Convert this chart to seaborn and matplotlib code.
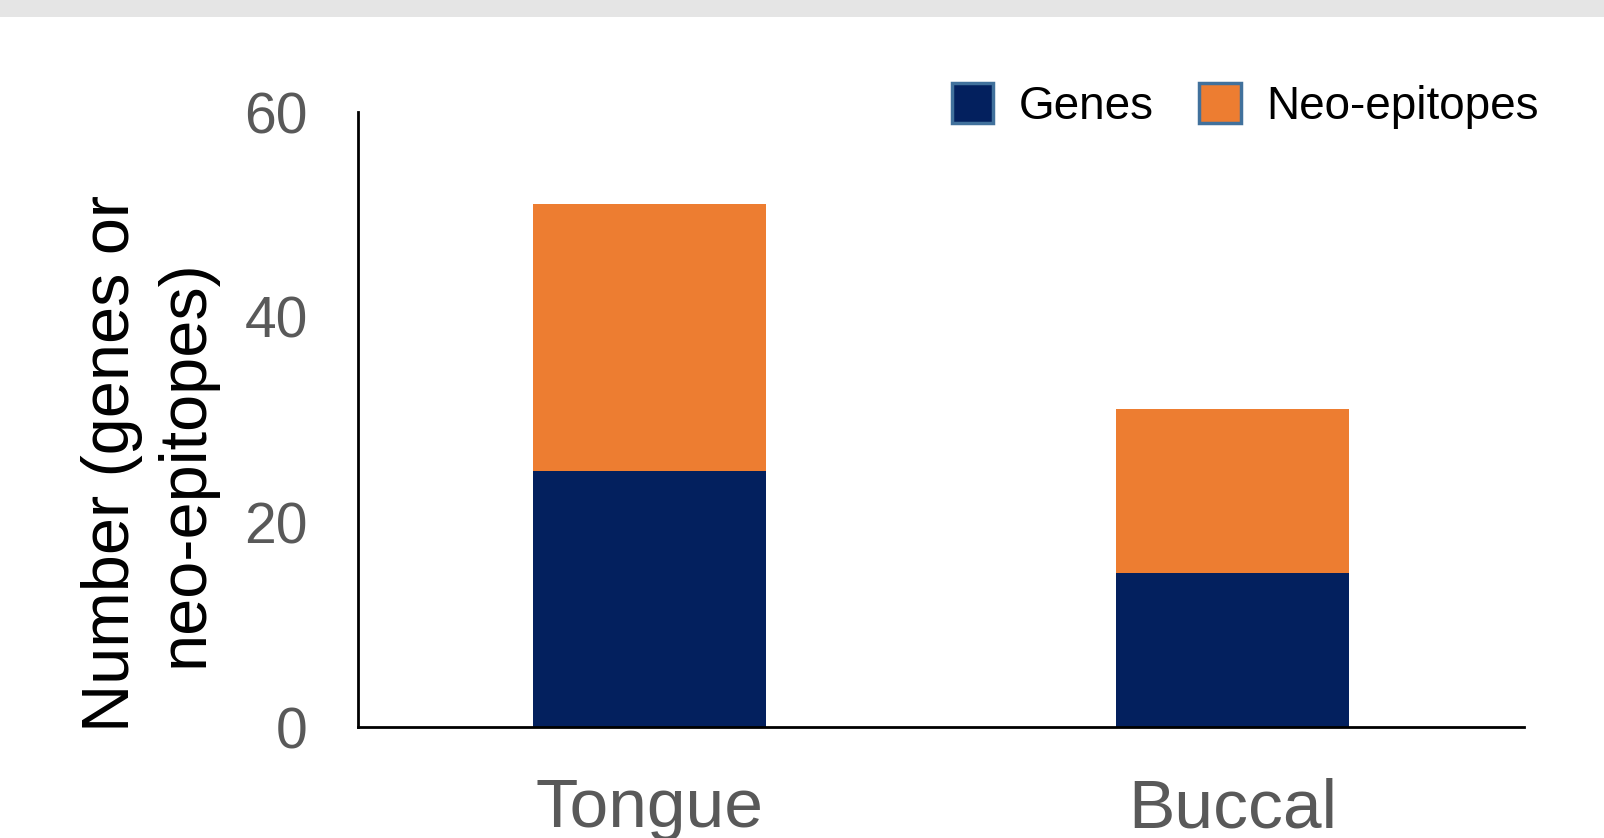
import matplotlib
matplotlib.use("Agg")
import matplotlib.pyplot as plt
import seaborn as sns
import pandas as pd
from matplotlib.patches import Patch, Rectangle

# values
sites = ['Tongue', 'Buccal']
genes = [25, 15]
neo_epitopes = [26, 16]

navy = '#03205E'
orange = '#ED7D31'
edge = '#41719C'
tick_grey = '#595959'

df = pd.DataFrame({'site': sites, 'genes': genes, 'neo': neo_epitopes})
df['total'] = df['genes'] + df['neo']

sns.set_theme(style='white')
plt.rcParams['font.family'] = ['Liberation Sans', 'DejaVu Sans']

fig = plt.figure(figsize=(16.04, 8.38), dpi=100)
ax = fig.add_axes([358 / 1604, 1 - 727 / 838, (1524 - 358) / 1604, (727 - 112) / 838])

# stacked bars: total (orange) behind genes (navy)
sns.barplot(data=df, x='site', y='total', color=orange, width=0.4, saturation=1,
            linewidth=0, ax=ax)
sns.barplot(data=df, x='site', y='genes', color=navy, width=0.4, saturation=1,
            linewidth=0, ax=ax)

ax.set_xlim(-0.5, 1.5)
ax.set_ylim(0, 60)
ax.set_yticks([0, 20, 40, 60])
ax.set_xlabel('')
ax.set_ylabel('')
sns.despine(ax=ax)
for s in ['left', 'bottom']:
    ax.spines[s].set_color('black')
    ax.spines[s].set_linewidth(2)
ax.spines['left'].set_bounds(0, 60)
ax.tick_params(axis='y', length=0, pad=36, labelsize=41, labelcolor=tick_grey)
ax.tick_params(axis='x', length=0, pad=36, labelsize=50, labelcolor=tick_grey)

fig.text(149 / 1604, 1 - 463 / 838, 'Number (genes or\nneo-epitopes)', rotation=90,
         ha='center', va='center', fontsize=48, color='black', linespacing=1.25)

handles = [Patch(facecolor=navy, edgecolor=edge, linewidth=2.5, label='Genes'),
           Patch(facecolor=orange, edgecolor=edge, linewidth=2.5, label='Neo-epitopes')]
fig.legend(handles=handles, loc='center left', bbox_to_anchor=(952 / 1604, 1 - 106 / 838),
           ncol=2, frameon=False, fontsize=33, labelcolor='black',
           handlelength=0.9, handleheight=0.95,
           handletextpad=0.55, columnspacing=1.0, borderpad=0, borderaxespad=0)

# grey band at the top of the slide
fig.patches.append(Rectangle((0, 1 - 17 / 838), 1, 17 / 838, transform=fig.transFigure,
                             facecolor='#E5E5E5', edgecolor='none'))

fig.savefig('out.png', dpi=100)
